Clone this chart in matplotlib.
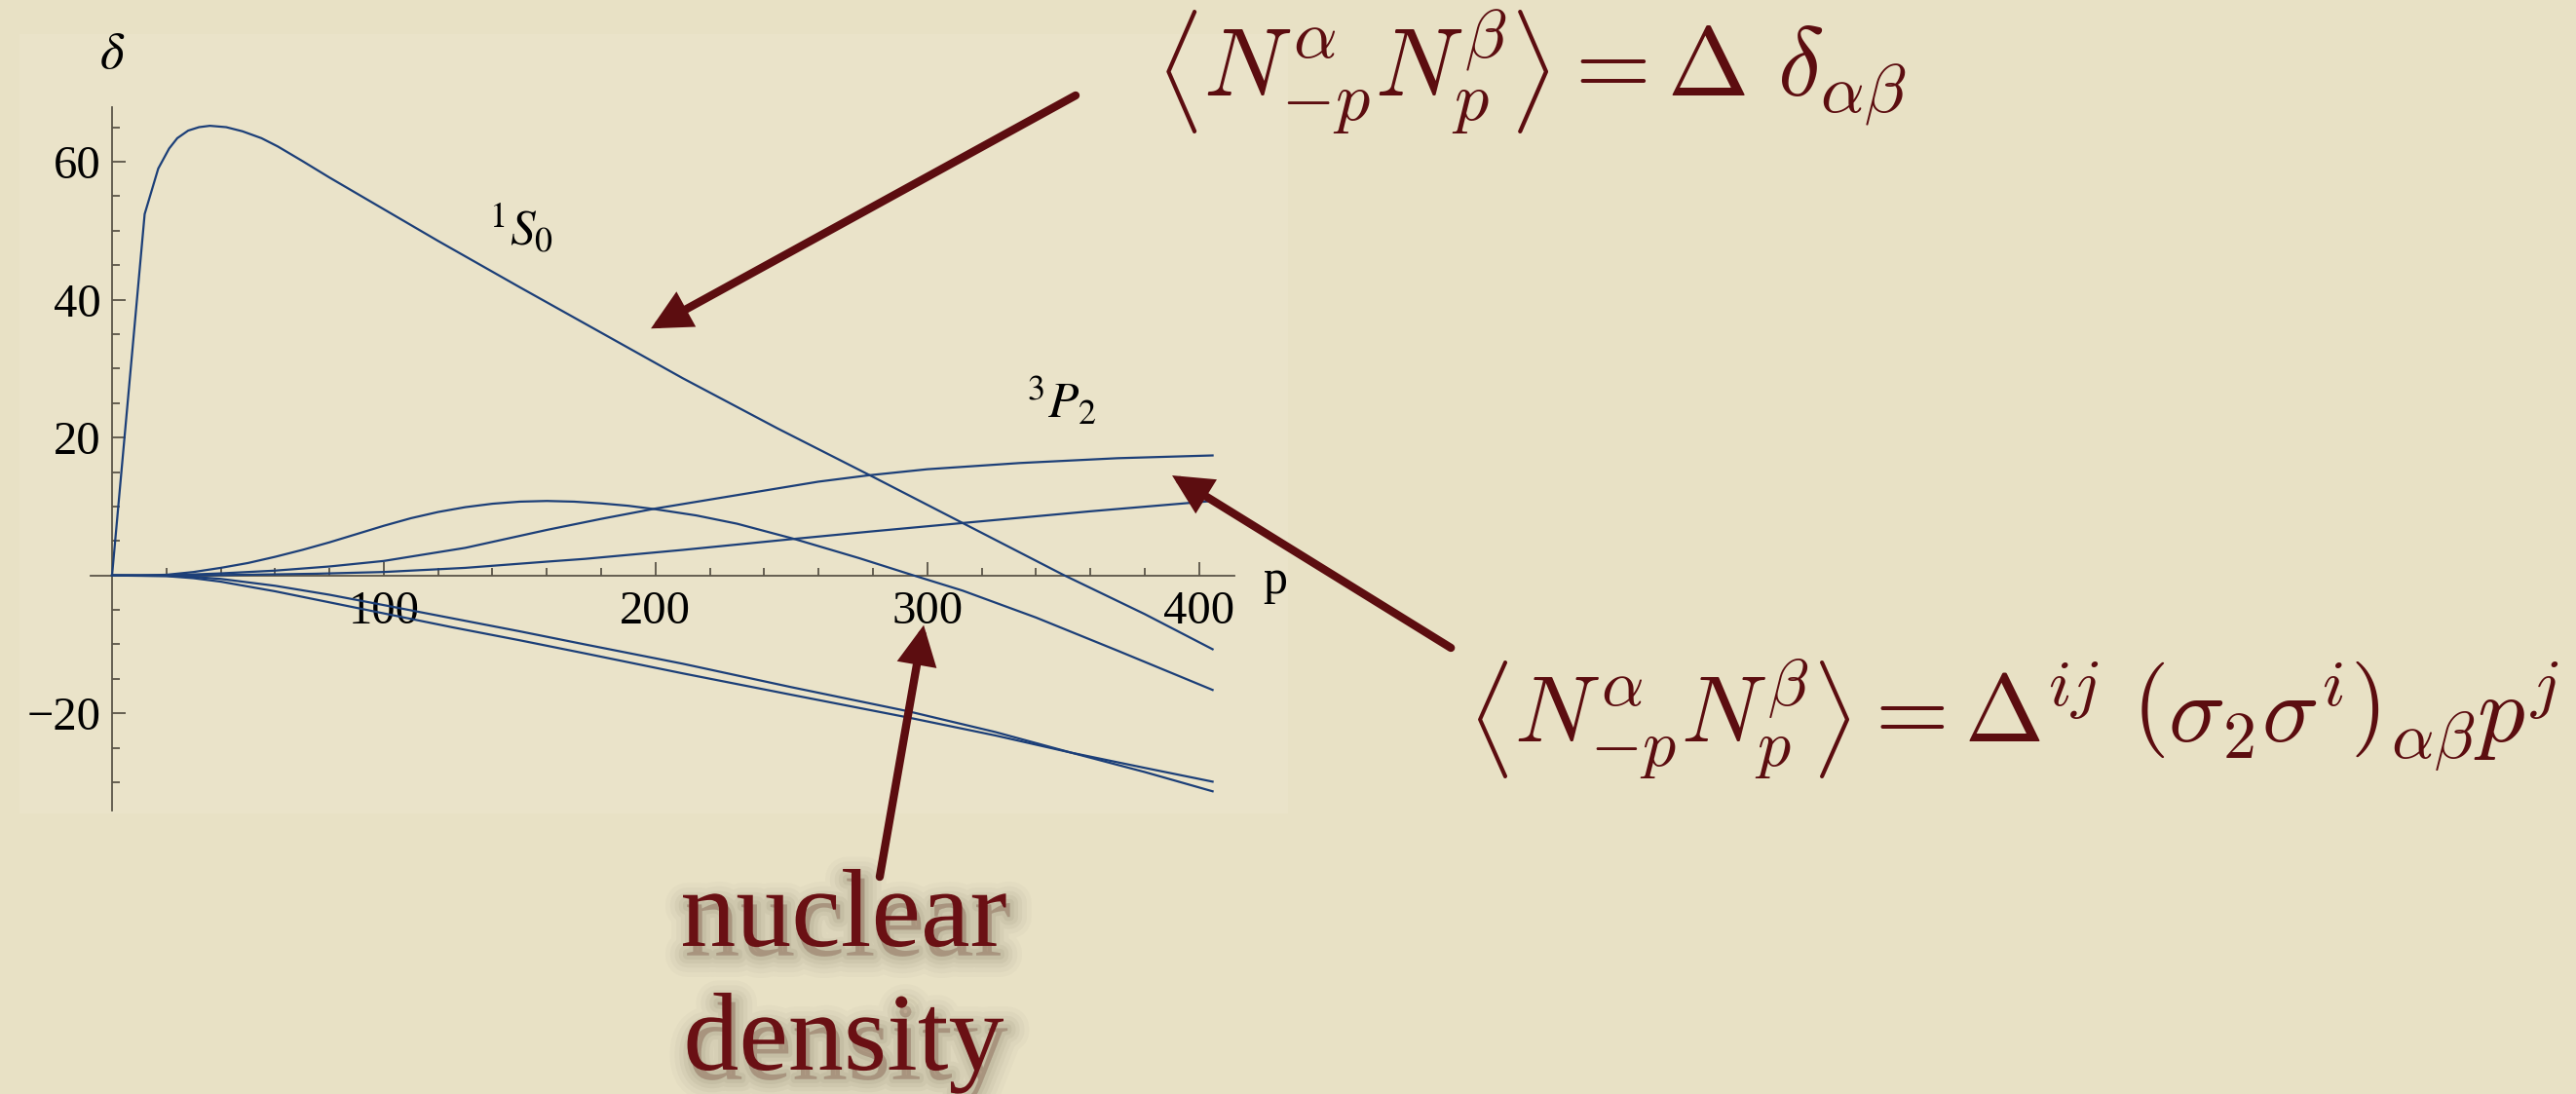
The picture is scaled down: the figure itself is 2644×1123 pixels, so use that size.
import matplotlib
matplotlib.use("Agg")
import matplotlib.pyplot as plt
import matplotlib.patheffects as pe
from matplotlib.patches import Rectangle
from matplotlib.ticker import FixedLocator
import numpy as np

# phase shifts (degrees) vs relative momentum p
p_1s0 = [0, 12, 17, 21, 24, 28, 32, 36, 42, 48, 55, 61, 70, 80, 90, 100, 120,
         150, 180, 210, 245, 280, 315, 350, 380, 405]
d_1s0 = [0, 52.4, 59.0, 61.9, 63.4, 64.5, 65.0, 65.2, 65.0, 64.4, 63.4, 62.2,
         60.1, 57.7, 55.4, 53.1, 48.5, 41.8, 35.2, 28.6, 21.3, 14.3, 7.2, 0.1,
         -5.6, -10.7]

p_3p0 = [0, 10, 20, 30, 40, 50, 60, 70, 80, 90, 100, 110, 120, 130, 140, 150,
         160, 170, 180, 190, 200, 215, 230, 251, 275, 295, 313, 340, 370, 405]
d_3p0 = [0, 0.0, 0.1, 0.5, 1.1, 1.8, 2.7, 3.7, 4.8, 6.0, 7.2, 8.3, 9.2, 9.9,
         10.4, 10.7, 10.8, 10.7, 10.45, 10.1, 9.6, 8.7, 7.5, 5.3, 2.5, 0.0,
         -2.2, -6.1, -10.9, -16.6]

p_3p2 = [0, 20, 40, 60, 80, 100, 130, 160, 180, 200, 220, 240, 260, 278, 300,
         334, 370, 405]
d_3p2 = [0, 0.0, 0.3, 0.7, 1.3, 2.1, 4.0, 6.6, 8.2, 9.7, 11.0, 12.3, 13.6,
         14.5, 15.4, 16.3, 17.0, 17.4]

p_1d2 = [0, 25, 50, 75, 100, 130, 160, 174, 210, 251, 280, 313, 360, 405]
d_1d2 = [0, 0.0, 0.1, 0.25, 0.5, 1.1, 2.0, 2.4, 3.7, 5.3, 6.4, 7.6, 9.3, 10.8]

p_neg = [0, 20, 30, 40, 50, 60, 80, 100, 125, 150, 174, 210, 250, 293, 325,
         353, 380, 405]
d_1p1 = [0, -0.1, -0.4, -0.9, -1.6, -2.3, -3.9, -5.5, -7.5, -9.4, -11.3,
         -14.2, -17.3, -20.6, -23.2, -25.7, -27.9, -29.9]
d_3p1 = [0, -0.05, -0.2, -0.5, -1.0, -1.5, -2.8, -4.3, -6.2, -8.1, -10.0,
         -12.8, -16.2, -19.7, -22.7, -25.7, -28.5, -31.3]

y_major = [-20, 20, 40, 60]
x_major = [100, 200, 300, 400]

bg = "#e8e1c5"
panel = "#eae3c9"
line_col = "#1c3f78"
axis_col = "#5a5548"
maroon = "#5c0d10"

plt.rcParams["font.family"] = ["Liberation Serif", "DejaVu Serif"]
plt.rcParams["mathtext.fontset"] = "cm"

W, H = 2644, 1123
fig = plt.figure(figsize=(W / 100, H / 100), dpi=100, facecolor=bg)
fig.add_artist(Rectangle((20 / W, 1 - 835 / H), 1302 / W, 800 / H,
                         transform=fig.transFigure, facecolor=panel,
                         edgecolor="none", zorder=-5))

ax = fig.add_axes([92.7 / W, 1 - 832.1 / H, 1174.2 / W, 722.1 / H])
ax.set_facecolor("none")
ax.set_zorder(1)
ax.set_xlim(-8, 413)
ax.set_ylim(-34.1, 67.9)

for s in ["top", "right"]:
    ax.spines[s].set_visible(False)
ax.spines["left"].set_position(("data", 0))
ax.spines["bottom"].set_position(("data", 0))
for s in ["left", "bottom"]:
    ax.spines[s].set_color(axis_col)
    ax.spines[s].set_linewidth(1.3)

ax.xaxis.set_major_locator(FixedLocator(x_major))
ax.xaxis.set_minor_locator(FixedLocator([v for v in range(20, 401, 20) if v % 100]))
ax.yaxis.set_major_locator(FixedLocator(y_major))
ax.yaxis.set_minor_locator(FixedLocator([v for v in range(-30, 66, 5) if v % 20 and v != 0]))
ax.tick_params(which="both", direction="in", color=axis_col, width=1.3,
               labelsize=35, labelcolor="black")
ax.tick_params(which="major", length=10)
ax.tick_params(which="minor", length=5.5)
ax.tick_params(axis="y", pad=8)
ax.tick_params(axis="x", pad=11)

for px, dy in [(p_1s0, d_1s0), (p_3p0, d_3p0), (p_3p2, d_3p2), (p_1d2, d_1d2),
               (p_neg, d_1p1), (p_neg, d_3p1)]:
    ax.plot(px, dy, color=line_col, lw=1.6, zorder=3, clip_on=False)

ax.text(0, 75.4, r"$\delta$", fontsize=38, ha="center", va="center",
        math_fontfamily="stix", clip_on=False)
ax.text(428, -0.9, "p", fontsize=36, ha="center", va="center", clip_on=False)
ax.text(150.6, 50.2, r"$^{1}S_{0}$", fontsize=37, ha="center", va="center",
        math_fontfamily="stix")
ax.text(349.6, 25.1, r"$^{3}P_{2}$", fontsize=37, ha="center", va="center",
        math_fontfamily="stix")

# pointer arrows
arrow_kw = dict(arrowstyle="-|>,head_length=1.0,head_width=0.5",
                mutation_scale=20, lw=6, color=maroon, shrinkA=0, shrinkB=0,
                joinstyle="miter")
for tail, tip in [((354.6, 69.6), (198.3, 35.8)),
                  ((492.7, -10.5), (390.1, 14.5)),
                  ((282.5, -43.7), (298.7, -7.2))]:
    ax.annotate("", xy=tip, xytext=tail, arrowprops=arrow_kw,
                annotation_clip=False, zorder=5)

fig.text(1186 / W, 1 - 99 / H,
         r"$\left\langle N^{\alpha}_{-p}N^{\beta}_{p}\right\rangle = \Delta\ \delta_{\alpha\beta}$",
         fontsize=72, color=maroon, ha="left", va="baseline")
fig.text(1506 / W, 1 - 762 / H,
         r"$\left\langle N^{\alpha}_{-p}N^{\beta}_{p}\right\rangle = \Delta^{ij}\ \left(\sigma_2\sigma^{i}\right)_{\alpha\beta}p^{j}$",
         fontsize=70, color=maroon, ha="left", va="baseline")

# soft drop shadow under the caption
shadow = [pe.Stroke(linewidth=w, foreground="#3b3622", alpha=a, offset=(3, -7))
          for w, a in [(32, 0.025), (25, 0.03), (18, 0.04), (12, 0.05), (6, 0.06)]]
shadow += [pe.SimplePatchShadow(offset=(3, -7), shadow_rgbFace="#3b3622", alpha=0.08),
           pe.Normal()]
for txt, yb in [("nuclear", 971), ("density", 1098)]:
    fig.text(866 / W, 1 - yb / H, txt, fontsize=82, color="#6a1014",
             ha="center", va="baseline", path_effects=shadow)

fig.savefig("out.png", dpi=100, facecolor=bg)
